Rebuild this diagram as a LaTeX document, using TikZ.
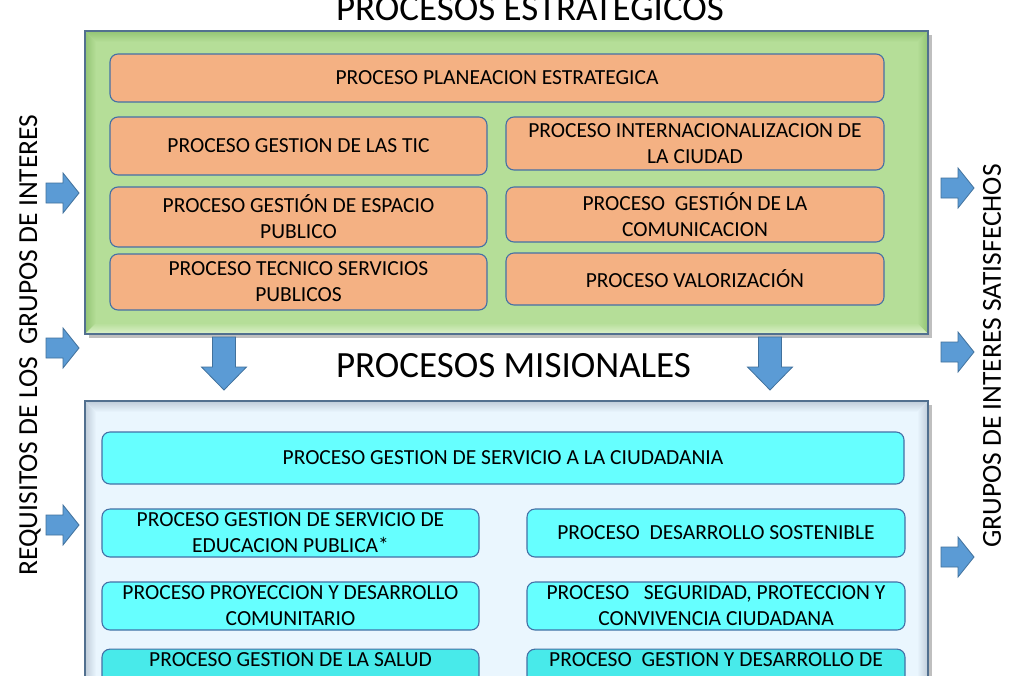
\documentclass[tikz,border=0pt]{standalone}
\usepackage{fontspec}
\setmainfont{Carlito}
\usetikzlibrary{positioning}

\definecolor{orangebox}{HTML}{F4B183}
\definecolor{cyanbox}{HTML}{66FFFF}
\definecolor{cyandark}{HTML}{48EAEA}
\definecolor{boxline}{HTML}{4470A6}
\definecolor{arrowblue}{HTML}{5B9BD5}
\definecolor{arrowline}{HTML}{41719C}
\definecolor{greenface}{HTML}{B5DE98}
\definecolor{greendark}{HTML}{93C474}
\definecolor{greenlight}{HTML}{DDF1CB}
\definecolor{blueface}{HTML}{EAF6FE}
\definecolor{bluedark}{HTML}{BFCCD9}
\definecolor{bluelight}{HTML}{F6FBFF}
\definecolor{panelline}{HTML}{52708F}

% panel with bevelled edges: corners, face colour, dark edge, light edge
\newcommand{\bevelpanel}[7]{%
    \fill[black!25] (#1+4,#2+4) rectangle (#3+4,#4+4);
    \fill[#5] (#1,#2) rectangle (#3,#4);
    \shade[top color=#6, bottom color=#5] (#1,#2) -- (#3,#2) -- (#3-11,#2+11) -- (#1+11,#2+11) -- cycle;
    \shade[left color=#6, right color=#5] (#1,#2) -- (#1+11,#2+11) -- (#1+11,#4-11) -- (#1,#4) -- cycle;
    \shade[left color=#5, right color=#6] (#3,#2) -- (#3,#4) -- (#3-11,#4-11) -- (#3-11,#2+11) -- cycle;
    \shade[top color=#5, bottom color=#7] (#1,#4) -- (#3,#4) -- (#3-11,#4-11) -- (#1+11,#4-11) -- cycle;
    \draw[panelline, line width=1.6pt] (#1,#2) rectangle (#3,#4);
}

\tikzset{
    proc/.style={draw=boxline, line width=1.1pt, rounded corners=8pt, align=center,
        font=\fontsize{21.5}{26}\selectfont, inner sep=3pt},
    estr/.style={proc, fill=orangebox},
    misi/.style={proc, fill=cyanbox},
    title/.style={anchor=base, font=\fontsize{37}{44}\selectfont},
    side/.style={rotate=90, font=\fontsize{27.5}{33}\selectfont},
    blockarrow/.style={fill=arrowblue, draw=arrowline, line width=0.8pt, line join=miter},
    rarrow/.pic={\path[blockarrow] (0,-10) -- (17,-10) -- (17,-20) -- (33,0) -- (17,20) -- (17,10) -- (0,10) -- cycle;},
    darrow/.pic={\path[blockarrow] (-11.5,0) -- (11.5,0) -- (11.5,30) -- (22.5,30) -- (0,53) -- (-22.5,30) -- (-11.5,30) -- cycle;}
}

\begin{document}
\begin{tikzpicture}[x=1pt,y=-1pt]
    \useasboundingbox[fill=white] (0,0) rectangle (1024,675);

    % the two panels
    \bevelpanel{85}{31}{928}{334}{greenface}{greendark}{greenlight}
    \bevelpanel{85}{401}{928}{710}{blueface}{bluedark}{bluelight}

    \node[title] (esttitle) at (530,20) {PROCESOS ESTRATEGICOS};
    \node[title] (mistitle) at (513.5,377) {PROCESOS MISIONALES};

    % procesos estrategicos
    \node[estr, minimum width=774, minimum height=48] (plan) at (497,78) {PROCESO PLANEACION ESTRATEGICA};
    \node[estr, minimum width=377, minimum height=58] (tic) at (298.5,146) {PROCESO GESTION DE LAS TIC};
    \node[estr, minimum width=378, minimum height=53] (inter) at (695,143.5) {PROCESO INTERNACIONALIZACION DE\\LA CIUDAD};
    \node[estr, minimum width=377, minimum height=60] (espacio) at (298.5,217) {PROCESO GESTIÓN DE ESPACIO\\PUBLICO};
    \node[estr, minimum width=378, minimum height=55] (comun) at (695,214.5) {PROCESO\ \ GESTIÓN DE LA\\COMUNICACION};
    \node[estr, minimum width=377, minimum height=56] (tecnico) at (298.5,282) {PROCESO TECNICO SERVICIOS\\PUBLICOS};
    \node[estr, minimum width=378, minimum height=52] (valor) at (695,279) {PROCESO VALORIZACIÓN};

    % procesos misionales
    \node[misi, minimum width=802, minimum height=52] (ciudadania) at (503,458) {PROCESO GESTION DE SERVICIO A LA CIUDADANIA};
    \node[misi, minimum width=377, minimum height=48] (educacion) at (290.5,533) {PROCESO GESTION DE SERVICIO DE\\EDUCACION PUBLICA*};
    \node[misi, minimum width=378, minimum height=48] (sostenible) at (716,533) {PROCESO\ \ DESARROLLO SOSTENIBLE};
    \node[misi, minimum width=377, minimum height=48] (proyeccion) at (290.5,606) {PROCESO PROYECCION Y DESARROLLO\\COMUNITARIO};
    \node[misi, minimum width=378, minimum height=48] (seguridad) at (716,606) {PROCESO\ \ \ SEGURIDAD, PROTECCION Y\\CONVIVENCIA CIUDADANA};
    \node[misi, fill=cyandark, minimum width=377, minimum height=48] (salud) at (290.5,676) {PROCESO GESTION DE LA SALUD\\\strut};
    \node[misi, fill=cyandark, minimum width=378, minimum height=48] (desarrollo) at (716,676) {PROCESO\ \ GESTION Y DESARROLLO DE\\\strut};

    % block arrows
    \foreach \y in {193,348,525} {
        \pic at (46,\y) {rarrow};
    }
    \foreach \y in {188,352,557} {
        \pic at (941,\y) {rarrow};
    }
    \foreach \x in {224,770} {
        \pic at (\x,337) {darrow};
    }

    \node[side] (requisitos) at (30,345) {REQUISITOS DE LOS\ \ GRUPOS DE INTERES};
    \node[side] (satisfechos) at (992,356) {GRUPOS DE INTERES SATISFECHOS};
\end{tikzpicture}
\end{document}
